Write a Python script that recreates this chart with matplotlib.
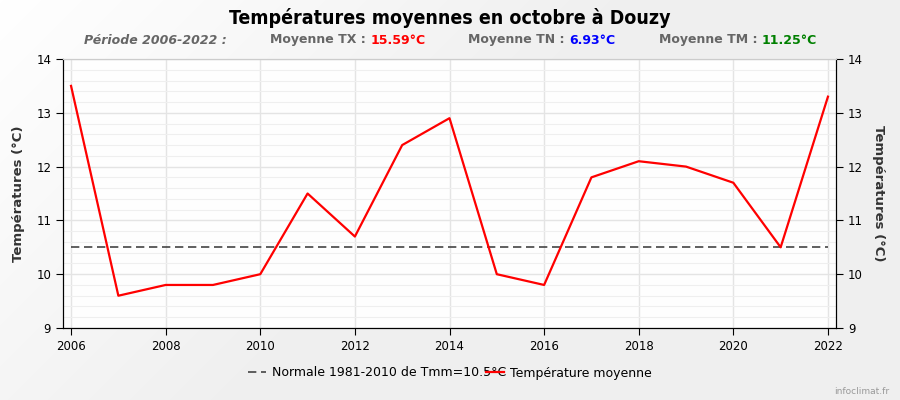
import numpy as np
import matplotlib
matplotlib.use("Agg")
import matplotlib.pyplot as plt
from matplotlib.ticker import MultipleLocator

# data
years = list(range(2006, 2023))
tmoy = [13.5, 9.6, 9.8, 9.8, 10.0, 11.5, 10.7, 12.4, 12.9, 10.0, 9.8, 11.8, 12.1, 12.0, 11.7, 10.5, 13.3]
normale = 10.5
stats_labels = ["Moyenne TX : ", "Moyenne TN : ", "Moyenne TM : "]
stats_values = ["15.59°C", "6.93°C", "11.25°C"]
stats_colors = ["#ff0000", "#0000ff", "#008000"]

plt.rcParams['font.family'] = ['DejaVu Sans']
fig = plt.figure(figsize=(9, 4), dpi=100)

# fond en degrade (blanc en haut a gauche, gris clair ailleurs)
bg = fig.add_axes([0, 0, 1, 1], zorder=-10)
px, py = np.meshgrid(np.arange(900), np.arange(400))
t = np.clip((px + py) / 650.0, 0, 1)
cmap = matplotlib.colors.LinearSegmentedColormap.from_list('g', ['#ffffff', '#efefef'])
bg.imshow(t, aspect='auto', cmap=cmap, vmin=0, vmax=1, extent=[0, 1, 0, 1], interpolation='bilinear')
bg.axis('off')

ax = fig.add_axes([63 / 900, 1 - 328 / 400, (836 - 63) / 900, (328 - 59) / 400])
ax.set_facecolor('#fefefe')

ax.plot(years, [normale] * len(years), color='#444444', lw=1.2, dashes=(5, 2.8),
        label="Normale 1981-2010 de Tmm=10.5°C")
ax.plot(years, tmoy, color='#ff0000', lw=1.6, label="Température moyenne")

ax.set_xlim(2005.83, 2022.17)
ax.set_ylim(9, 14)
ax.xaxis.set_major_locator(MultipleLocator(2))
ax.yaxis.set_major_locator(MultipleLocator(1))
ax.yaxis.set_minor_locator(MultipleLocator(0.2))
ax.grid(which='major', color='#e4e4e4', lw=1)
ax.grid(which='minor', axis='y', color='#efefef', lw=0.8)
ax.set_axisbelow(True)
ax.tick_params(axis='both', which='major', direction='out', length=5, labelsize=8.5, colors='black')
ax.tick_params(axis='y', which='minor', length=0)
ax.spines['top'].set_color('#cccccc')
ax.set_ylabel("Températures (°C)", fontsize=9.5, fontweight='bold', color='#333333', labelpad=8)

ax2 = ax.twinx()
ax2.set_ylim(9, 14)
ax2.yaxis.set_major_locator(MultipleLocator(1))
ax2.tick_params(axis='y', direction='out', length=5, labelsize=8.5)
ax2.set_ylabel("Températures (°C)", fontsize=9.5, fontweight='bold', color='#333333',
               rotation=-90, labelpad=16)
ax2.spines['top'].set_color('#cccccc')

fig.text(0.5, 0.955, "Températures moyennes en octobre à Douzy", ha='center', va='center',
         fontsize=14, fontweight='bold', fontstretch='condensed')

fig.text(155 / 900, 0.9, "Période 2006-2022 :", ha='center', va='center', fontsize=9,
         fontweight='bold', fontstyle='italic', color='#666666')
xs = [270, 468, 659]
for x, lab, val, col in zip(xs, stats_labels, stats_values, stats_colors):
    t = fig.text(x / 900, 0.9, lab, ha='left', va='center', fontsize=9, fontweight='bold', color='#666666')
    fig.canvas.draw()
    bb = t.get_window_extent()
    fig.text(bb.x1 / 900, 0.9, val, ha='left', va='center', fontsize=9, fontweight='bold', color=col)

h, l = ax.get_legend_handles_labels()
fig.legend(h, l, loc='center', bbox_to_anchor=(0.5, 1 - 373 / 400), ncol=2, frameon=False,
           fontsize=9, handlelength=1.4, columnspacing=-1.6, handletextpad=0.5)

fig.text(862 / 900, 1 - 392 / 400, "infoclimat.fr", ha='center', va='center', fontsize=6.5, color='#999999')

fig.savefig("out.png", dpi=100)
